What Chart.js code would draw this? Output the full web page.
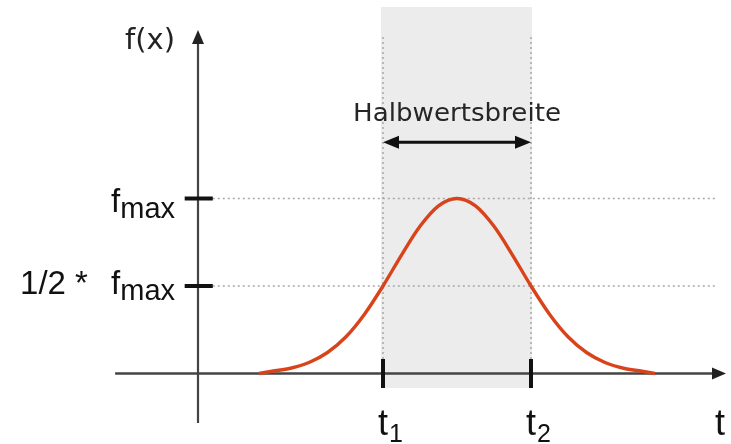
<!DOCTYPE html>
<html>
<head>
<meta charset="utf-8">
<script src="https://cdn.jsdelivr.net/npm/chart.js@4/dist/chart.umd.min.js"></script>
<style>
html,body{margin:0;padding:0;background:#fff;}
#wrap{width:731px;height:444px;position:relative;}
</style>
</head>
<body>
<div id="wrap"><canvas id="c"></canvas></div>
<script>
// ---- data ----
const tValues = [1.65, 2, 2.5, 3, 3.5, 4, 4.5, 5, 5.5, 6, 6.5, 7, 7.5, 8, 8.5, 9, 9.5, 10, 10.5, 11, 11.5, 12, 12.35];
const fValues = [0, 0.013, 0.030, 0.063, 0.120, 0.210, 0.339, 0.5, 0.677, 0.841, 0.958, 1, 0.958, 0.841, 0.677, 0.5, 0.339, 0.210, 0.120, 0.063, 0.030, 0.013, 0];
const yTickValues = [1, 0.5];
const yTickPrefix = ['', '1/2 *'];
const yTickMain = ['f', 'f'];
const yTickSub = ['max', 'max'];
const xTickValues = [5, 9];
const xTickMain = ['t', 't'];
const xTickSub = ['1', '2'];
const xAxisTitle = 't';
const yAxisTitle = 'f(x)';
const widthLabel = 'Halbwertsbreite';

const curvePoints = tValues.map((t, i) => ({x: t, y: fValues[i]}));

const fwhmPlugin = {
  id: 'fwhm',
  beforeDatasetsDraw(chart) {
    const ctx = chart.ctx, xs = chart.scales.x, ys = chart.scales.y;
    const X = v => xs.getPixelForValue(v), Y = v => ys.getPixelForValue(v);
    const t1 = xTickValues[0], t2 = xTickValues[1];
    ctx.save();
    // shaded band
    ctx.fillStyle = '#ececec';
    ctx.fillRect(X(t1) - 2, Y(2.094), X(t2) - X(t1) + 3, Y(-0.083) - Y(2.094));
    // dotted guides
    ctx.strokeStyle = '#a8a8a8';
    ctx.lineWidth = 1.5;
    ctx.setLineDash([2, 3]);
    xTickValues.forEach(v => {
      ctx.beginPath(); ctx.moveTo(X(v), Y(1.923)); ctx.lineTo(X(v), Y(0)); ctx.stroke();
    });
    yTickValues.forEach(v => {
      ctx.beginPath(); ctx.moveTo(X(0.4), Y(v)); ctx.lineTo(X(14.03), Y(v)); ctx.stroke();
    });
    ctx.setLineDash([]);
    // axes
    ctx.strokeStyle = '#444';
    ctx.fillStyle = '#222';
    ctx.lineWidth = 2.6;
    const xEnd = X(14.27), y0 = Y(0);
    ctx.beginPath(); ctx.moveTo(X(-2.24), y0); ctx.lineTo(xEnd - 10, y0); ctx.stroke();
    ctx.beginPath(); ctx.moveTo(xEnd, y0); ctx.lineTo(xEnd - 14, y0 - 6); ctx.lineTo(xEnd - 14, y0 + 6); ctx.closePath(); ctx.fill();
    const x0 = X(0), yTop = Y(1.963);
    ctx.lineWidth = 2.2;
    ctx.beginPath(); ctx.moveTo(x0, Y(-0.283)); ctx.lineTo(x0, yTop + 10); ctx.stroke();
    ctx.beginPath(); ctx.moveTo(x0, yTop); ctx.lineTo(x0 - 6, yTop + 14); ctx.lineTo(x0 + 6, yTop + 14); ctx.closePath(); ctx.fill();
    ctx.restore();
  },
  afterDatasetsDraw(chart) {
    const ctx = chart.ctx, xs = chart.scales.x, ys = chart.scales.y;
    const X = v => xs.getPixelForValue(v), Y = v => ys.getPixelForValue(v);
    const t1 = xTickValues[0], t2 = xTickValues[1];
    ctx.save();
    // tick marks
    ctx.strokeStyle = '#111';
    ctx.lineWidth = 4;
    yTickValues.forEach(v => {
      ctx.beginPath(); ctx.moveTo(X(-0.36), Y(v)); ctx.lineTo(X(0.4), Y(v)); ctx.stroke();
    });
    xTickValues.forEach(v => {
      ctx.beginPath(); ctx.moveTo(X(v), Y(0.083)); ctx.lineTo(X(v), Y(-0.083)); ctx.stroke();
    });
    // double arrow
    const ay = Y(1.322), ax1 = X(t1), ax2 = X(t2);
    ctx.strokeStyle = '#111'; ctx.fillStyle = '#111'; ctx.lineWidth = 3;
    ctx.beginPath(); ctx.moveTo(ax1 + 10, ay); ctx.lineTo(ax2 - 10, ay); ctx.stroke();
    ctx.beginPath(); ctx.moveTo(ax1, ay); ctx.lineTo(ax1 + 16, ay - 6.5); ctx.lineTo(ax1 + 16, ay + 6.5); ctx.closePath(); ctx.fill();
    ctx.beginPath(); ctx.moveTo(ax2, ay); ctx.lineTo(ax2 - 16, ay - 6.5); ctx.lineTo(ax2 - 16, ay + 6.5); ctx.closePath(); ctx.fill();
    // width label (stretched to fit)
    ctx.fillStyle = '#262626';
    ctx.font = '25px "DejaVu Sans"';
    ctx.textBaseline = 'alphabetic';
    const w = ctx.measureText(widthLabel).width;
    const target = 208;
    ctx.save();
    ctx.translate(X((t1 + t2) / 2), Y(1.443));
    ctx.scale(target / w, 1);
    ctx.textAlign = 'center';
    ctx.fillText(widthLabel, 0, 0);
    ctx.restore();
    // axis titles
    ctx.fillStyle = '#222';
    ctx.font = '29px "DejaVu Sans"';
    ctx.textAlign = 'right';
    ctx.fillText(yAxisTitle, X(-0.62), Y(1.857));
    ctx.font = '36px "Liberation Sans"';
    ctx.textAlign = 'left';
    ctx.fillStyle = '#111';
    ctx.fillText(xAxisTitle, X(13.97), Y(-0.351));
    // y tick labels with subscripts
    const yBase = [Y(1) + 13, Y(0.5) + 8];
    yTickValues.forEach((v, i) => {
      const right = X(-0.62);
      ctx.font = '29px "Liberation Sans"';
      ctx.textAlign = 'right';
      ctx.fillText(yTickSub[i], right, yBase[i] + 6);
      const sw = ctx.measureText(yTickSub[i]).width;
      ctx.font = '33px "Liberation Sans"';
      ctx.fillText(yTickMain[i], right - sw, yBase[i]);
      if (yTickPrefix[i]) {
        ctx.textAlign = 'left';
        ctx.fillText(yTickPrefix[i], X(-4.81), yBase[i]);
      }
    });
    // x tick labels with subscripts
    xTickValues.forEach((v, i) => {
      const left = X(v) - 5;
      ctx.font = '36px "Liberation Sans"';
      ctx.textAlign = 'left';
      ctx.fillText(xTickMain[i], left, Y(-0.351));
      const mw = ctx.measureText(xTickMain[i]).width;
      ctx.font = '25px "Liberation Sans"';
      ctx.fillText(xTickSub[i], left + mw + 1, Y(-0.391));
    });
    ctx.restore();
  }
};

new Chart(document.getElementById('c'), {
  type: 'scatter',
  data: {
    datasets: [{
      data: curvePoints,
      showLine: true,
      borderColor: '#d9431b',
      borderWidth: 3.4,
      pointRadius: 0,
      fill: false,
      cubicInterpolationMode: 'monotone',
      clip: false
    }]
  },
  options: {
    responsive: true,
    maintainAspectRatio: false,
    animation: false,
    layout: {padding: 0},
    plugins: {legend: {display: false}, tooltip: {enabled: false}},
    scales: {
      x: {type: 'linear', display: false, min: -198 / 37, max: 533 / 37},
      y: {type: 'linear', display: false, min: -70.5 / 175, max: 373.5 / 175}
    }
  },
  plugins: [fwhmPlugin]
});
</script>
</body>
</html>
